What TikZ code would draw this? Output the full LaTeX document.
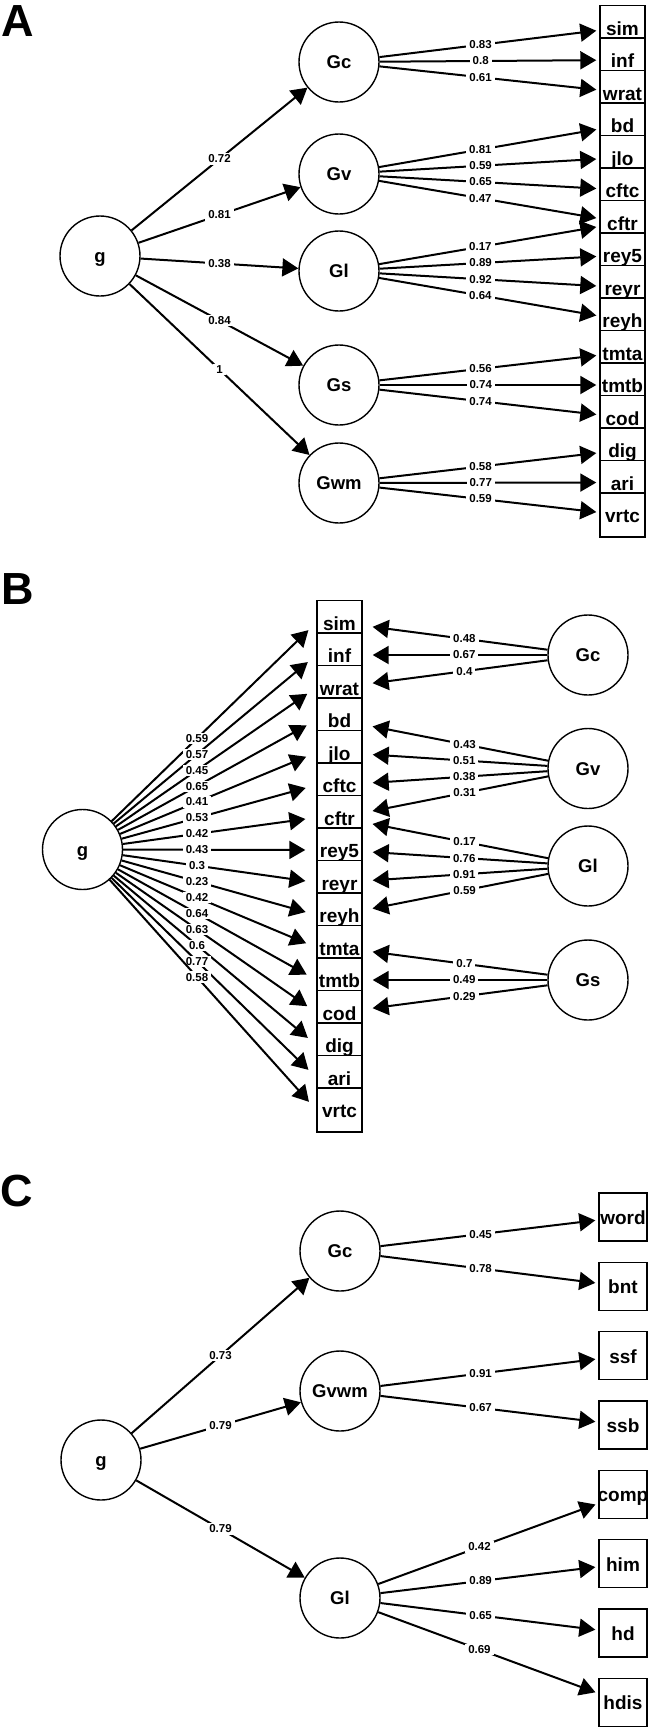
\documentclass[tikz,border=0pt]{standalone}
\usepackage{fontspec}
\setmainfont{Liberation Sans}
\usetikzlibrary{arrows.meta}

\begin{document}
\begin{tikzpicture}[x=1pt,y=-1pt,
    latent/.style={circle,draw,line width=1.4pt,minimum size=80pt,inner sep=0pt,text height=13pt,text depth=0pt,font=\fontsize{18.5}{22}\selectfont\bfseries},
    obs/.style={rectangle,draw,fill=white,line width=1.4pt,minimum width=45pt,minimum height=44pt,inner sep=0pt,text height=17pt,text depth=2pt,font=\fontsize{19}{23}\selectfont\bfseries},
    obsc/.style={obs,minimum width=48pt,minimum height=48pt},
    wt/.style={fill=white,inner xsep=3pt,inner ysep=1.5pt,font=\fontsize{11.5}{13}\selectfont\bfseries},
    loading/.style={-{Triangle[length=16pt,width=18pt]},line width=2pt},
    panel/.style={anchor=north west,inner sep=0pt,font=\fontsize{45}{50}\selectfont\bfseries}
]
    \useasboundingbox (0,0) rectangle (650,1733);

    % Panel A
    \node[panel] (pA) at (1,5) {A};
    \foreach \t [count=\i from 0] in {sim,inf,wrat,bd,jlo,cftc,cftr,rey5,reyr,reyh,tmta,tmtb,cod,dig,ari,vrtc}
        \node[obs] (A\t) at (622.5,27.5+32.5*\i) {\t};

    \node[latent] (Ag) at (100,256) {g};
    \node[latent] (AGc) at (339,62) {Gc};
    \node[latent] (AGv) at (339,174) {Gv};
    \node[latent] (AGl) at (339,271) {Gl};
    \node[latent] (AGs) at (339,385) {Gs};
    \node[latent] (AGwm) at (339,483) {Gwm};

    \foreach \f/\v in {Gc/0.72,Gv/0.81,Gl/0.38,Gs/0.84,Gwm/1}
        \draw[loading] (Ag) -- node[wt] {\v} (A\f);

    \foreach \f/\t/\v in {Gc/sim/0.83,Gc/inf/0.8,Gc/wrat/0.61,
        Gv/bd/0.81,Gv/jlo/0.59,Gv/cftc/0.65,Gv/cftr/0.47,
        Gl/cftr/0.17,Gl/rey5/0.89,Gl/reyr/0.92,Gl/reyh/0.64,
        Gs/tmta/0.56,Gs/tmtb/0.74,Gs/cod/0.74,
        Gwm/dig/0.58,Gwm/ari/0.77,Gwm/vrtc/0.59}
        \draw[loading,shorten >=3pt] (A\f) -- node[wt,pos=0.46] {\v} (A\t);

    % Panel B
    \node[panel] (pB) at (1,573) {B};
    \foreach \t [count=\i from 0] in {sim,inf,wrat,bd,jlo,cftc,cftr,rey5,reyr,reyh,tmta,tmtb,cod,dig,ari,vrtc}
        \node[obs] (B\t) at (339.5,622.5+32.5*\i) {\t};

    \node[latent] (Bg) at (82.5,849.5) {g};
    \node[latent] (BGc) at (588,655) {Gc};
    \node[latent] (BGv) at (588,768.5) {Gv};
    \node[latent] (BGl) at (588,866) {Gl};
    \node[latent] (BGs) at (588,980) {Gs};

    \coordinate (Bl1) at (197,600);
    \coordinate (Bl2) at (197,1100);
    \foreach \t/\v in {sim/0.59,inf/0.57,wrat/0.45,bd/0.65,jlo/0.41,cftc/0.53,cftr/0.42,rey5/0.43,
        reyr/0.3,reyh/0.23,tmta/0.42,tmtb/0.64,cod/0.63,dig/0.6,ari/0.77,vrtc/0.58}{
        \draw[loading,shorten >=11pt] (Bg) -- (B\t.west);
        \node[wt] at (intersection cs: first line={(Bg)--(B\t.west)}, second line={(Bl1)--(Bl2)}) {\v};
    }

    \foreach \f/\t/\v in {Gc/sim/0.48,Gc/inf/0.67,Gc/wrat/0.4,
        Gv/bd/0.43,Gv/jlo/0.51,Gv/cftc/0.38,Gv/cftr/0.31,
        Gl/cftr/0.17,Gl/rey5/0.76,Gl/reyr/0.91,Gl/reyh/0.59,
        Gs/tmta/0.7,Gs/tmtb/0.49,Gs/cod/0.29}
        \draw[loading,shorten >=10pt] (B\f) -- node[wt,pos=0.45] {\v} (B\t);

    % Panel C
    \node[panel] (pC) at (0,1175) {C};
    \foreach \t [count=\i from 0] in {word,bnt,ssf,ssb,comp,him,hd,hdis}
        \node[obsc] (C\t) at (623,1217+69.35*\i) {\makebox[0pt]{\t}};

    \node[latent] (Cg) at (101,1460) {g};
    \node[latent] (CGc) at (340,1251) {Gc};
    \node[latent] (CGvwm) at (340,1391) {Gvwm};
    \node[latent] (CGl) at (340,1598) {Gl};

    \foreach \f/\v in {Gc/0.73,Gvwm/0.79,Gl/0.79}
        \draw[loading] (Cg) -- node[wt] {\v} (C\f);

    \foreach \f/\t/\v in {Gc/word/0.45,Gc/bnt/0.78,Gvwm/ssf/0.91,Gvwm/ssb/0.67,
        Gl/comp/0.42,Gl/him/0.89,Gl/hd/0.65,Gl/hdis/0.69}
        \draw[loading,shorten >=3pt] (C\f) -- node[wt,pos=0.46] {\v} (C\t);
\end{tikzpicture}
\end{document}
